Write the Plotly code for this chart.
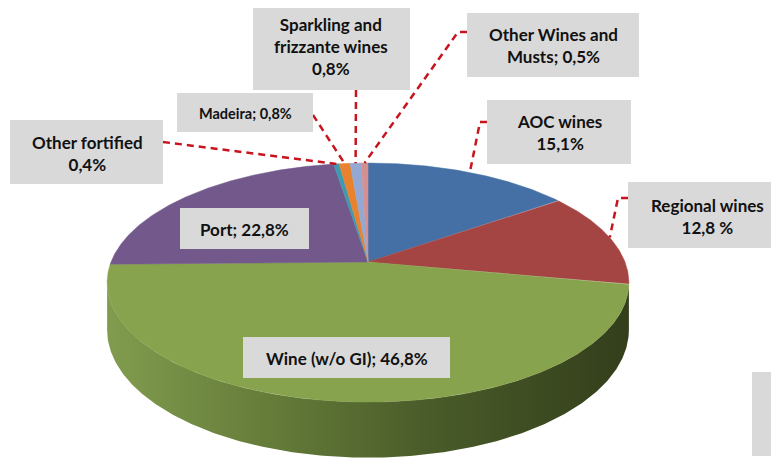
import numpy as np
import plotly.graph_objects as go

# ---------------- data ----------------
categories = ["AOC wines", "Regional wines", "Wine (w/o GI)", "Port",
              "Other fortified", "Madeira", "Sparkling and frizzante wines",
              "Other Wines and Musts"]
shares = [15.1, 12.8, 46.8, 22.8, 0.4, 0.8, 0.8, 0.5]
label_texts = ["AOC wines<br>15,1%", "Regional wines<br>12,8 %",
               "Wine (w/o GI); 46,8%", "Port; 22,8%",
               "Other fortified<br>0,4%", "Madeira; 0,8%",
               "Sparkling and<br>frizzante wines<br>0,8%",
               "Other Wines and<br>Musts; 0,5%"]
slice_colors = ["#4570A5", "#A54543", "#87A34D", "#73588C",
                "#3D9AB0", "#E8822E", "#93A9D3", "#D49090"]

# ---------------- geometry (3D pie in perspective) ----------------
CX, CY = 368.0, 262.0
R, BR, K, H = 257.0, 116.0, 0.172, 46.0


def rim(theta_deg, drop=0.0):
    t = np.radians(theta_deg)
    u, v = np.sin(t), np.cos(t)
    s = 1.0 / (1.0 + K * v)
    return CX + R * u * s, CY - BR * v * s + drop * s


fig = go.Figure()

# side wall (front, visible part)
sil = np.degrees(np.arccos(-K))  # silhouette angle
th = np.linspace(sil, 360 - sil, 300)
xt, yt = rim(th)
xb, yb = rim(th[::-1], H)
fig.add_trace(go.Scatter(
    x=np.concatenate([xt, xb, xt[:1]]), y=np.concatenate([yt, yb, yt[:1]]),
    mode="lines", line=dict(width=0), fill="toself",
    fillgradient=dict(type="horizontal",
                      colorscale=[[0, "#819C4E"], [0.3, "#667D3A"],
                                  [0.6, "#4B5D2A"], [1, "#333E1B"]]),
    hoverinfo="skip", showlegend=False))

# top face slices
total = float(sum(shares))
cum = np.concatenate([[0], np.cumsum(shares)]) / total * 360.0
for i, name in enumerate(categories):
    a0, a1 = cum[i], cum[i + 1]
    n = max(4, int((a1 - a0) * 3))
    aa = np.linspace(a0, a1, n)
    ax_, ay_ = rim(aa)
    fig.add_trace(go.Scatter(
        x=np.concatenate([[CX], ax_, [CX]]),
        y=np.concatenate([[CY], ay_, [CY]]),
        mode="lines", line=dict(width=0.5, color=slice_colors[i]),
        fill="toself", fillcolor=slice_colors[i],
        name=name, hoverinfo="skip", showlegend=False))

# ---------------- labels ----------------
# box: (x0, y0, x1, y1), text centre, font size, leader start points
boxes = {
    "AOC wines": ((487, 100, 631, 164), (559, 132), 17, [(487, 122), (480, 122)]),
    "Regional wines": ((628, 182, 785, 248), (707, 216), 17, [(628, 198), (618, 198)]),
    "Wine (w/o GI)": ((243, 337, 450, 378), (347, 358), 17, None),
    "Port": ((180, 208, 309, 249), (244, 229), 17, None),
    "Other fortified": ((10, 120, 163, 184), (87, 153), 17, [(163, 142)]),
    "Madeira": ((177, 93, 313, 132), (245, 113), 14.5, [(313, 115)]),
    "Sparkling and frizzante wines": ((253, 0, 410, 90), (331, 46), 17, [(356, 90)]),
    "Other Wines and Musts": ((467, 13, 639, 77), (553, 45), 17, [(467, 32), (458, 32)]),
}

for i, name in enumerate(categories):
    (x0, y0, x1, y1), (tx, ty), fs, lead = boxes[name]
    if lead is not None:
        mid = (cum[i] + cum[i + 1]) / 2
        ex, ey = rim(mid)
        lx = [p[0] for p in lead] + [float(ex)]
        ly = [p[1] for p in lead] + [float(ey)]
        fig.add_trace(go.Scatter(
            x=lx, y=ly, mode="lines",
            line=dict(color="#C8141E", width=2.5, dash="7px,5px"),
            hoverinfo="skip", showlegend=False))
    fig.add_shape(type="rect", x0=x0, y0=y0, x1=x1, y1=y1,
                  fillcolor="#D9D9D9", line=dict(width=0), layer="above")
    fig.add_annotation(x=tx, y=ty, text="<b>" + label_texts[i] + "</b>",
                       showarrow=False, xanchor="center", yanchor="middle",
                       font=dict(family="Lato", size=fs, color="#111111"))

# stray empty label box at lower right
fig.add_shape(type="rect", x0=752, y0=372, x1=785, y1=456,
              fillcolor="#D9D9D9", line=dict(width=0), layer="above")

# the page body has an 8px margin, so the plot area starts at window pixel 8
fig.update_layout(
    width=779, height=453, margin=dict(l=0, r=0, t=0, b=0),
    paper_bgcolor="white", plot_bgcolor="white", showlegend=False,
    xaxis=dict(range=[8, 787], visible=False, fixedrange=True),
    yaxis=dict(range=[461, 8], visible=False, fixedrange=True),
)

fig.write_html("out.html")
